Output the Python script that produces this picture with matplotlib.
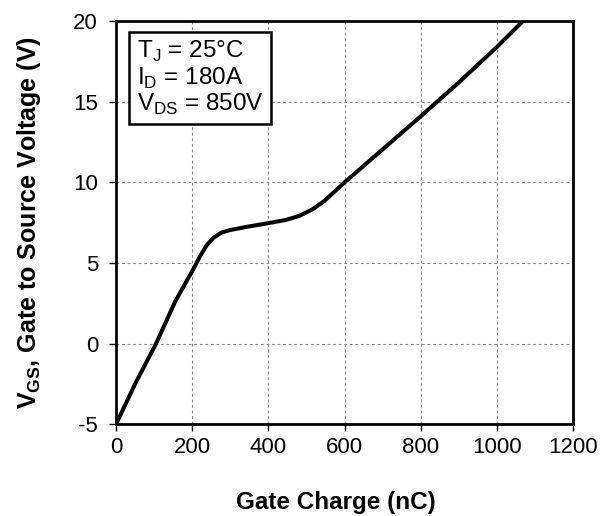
import matplotlib
matplotlib.use("Agg")
import matplotlib.pyplot as plt

plt.rcParams['font.family'] = ['Liberation Sans', 'DejaVu Sans']
plt.rcParams['axes.unicode_minus'] = False

charge_nc = [0, 50, 105, 155, 200, 220, 238, 255, 277, 299, 343, 400, 446, 481, 516, 547,
             600, 700, 800, 900, 1000, 1068]
vgs_v = [-5, -2.5, 0, 2.6, 4.5, 5.4, 6.1, 6.55, 6.89, 7.04, 7.24, 7.47, 7.67, 7.92, 8.33, 8.85,
         10.0, 12.05, 14.1, 16.2, 18.4, 20]
x_ticks = [0, 200, 400, 600, 800, 1000, 1200]
y_ticks = [-5, 0, 5, 10, 15, 20]

fig = plt.figure(figsize=(6.11, 5.16), dpi=100)
ax = fig.add_axes([0.190, 0.178, 0.748, 0.781])
ax.plot(charge_nc, vgs_v, color='black', lw=2.9, solid_joinstyle='round', solid_capstyle='butt', zorder=3)
ax.set_xlim(0, 1200)
ax.set_ylim(-5, 20)
ax.set_xticks(x_ticks)
ax.set_yticks(y_ticks)
ax.grid(True, color='#888888', ls=(0, (2.5, 2.5)), lw=0.8)
for s in ax.spines.values():
    s.set_linewidth(2.0)
ax.tick_params(direction='out', length=5, width=1.0, labelsize=16, colors='black')
ax.tick_params(axis='x', pad=4)
ax.tick_params(axis='y', pad=8)
ax.set_xlabel('Gate Charge (nC)', fontsize=17.5, fontweight='bold')
ax.xaxis.set_label_coords(0.481, -0.165)
ax.set_ylabel(r'V$_{\mathregular{GS}}$, Gate to Source Voltage (V)', fontsize=18, fontweight='bold', labelpad=22)

txt = ('T$_{\\mathregular{J}}$ = 25°C\n'
       'I$_{\\mathregular{D}}$ = 180A\n'
       'V$_{\\mathregular{DS}}$ = 850V')
ax.text(0.045, 0.955, txt, transform=ax.transAxes, fontsize=17.5, va='top', ha='left',
        linespacing=1.05,
        bbox=dict(boxstyle='square,pad=0.3', fc='white', ec='black', lw=1.8), zorder=5)

fig.savefig('out.png', dpi=100)
